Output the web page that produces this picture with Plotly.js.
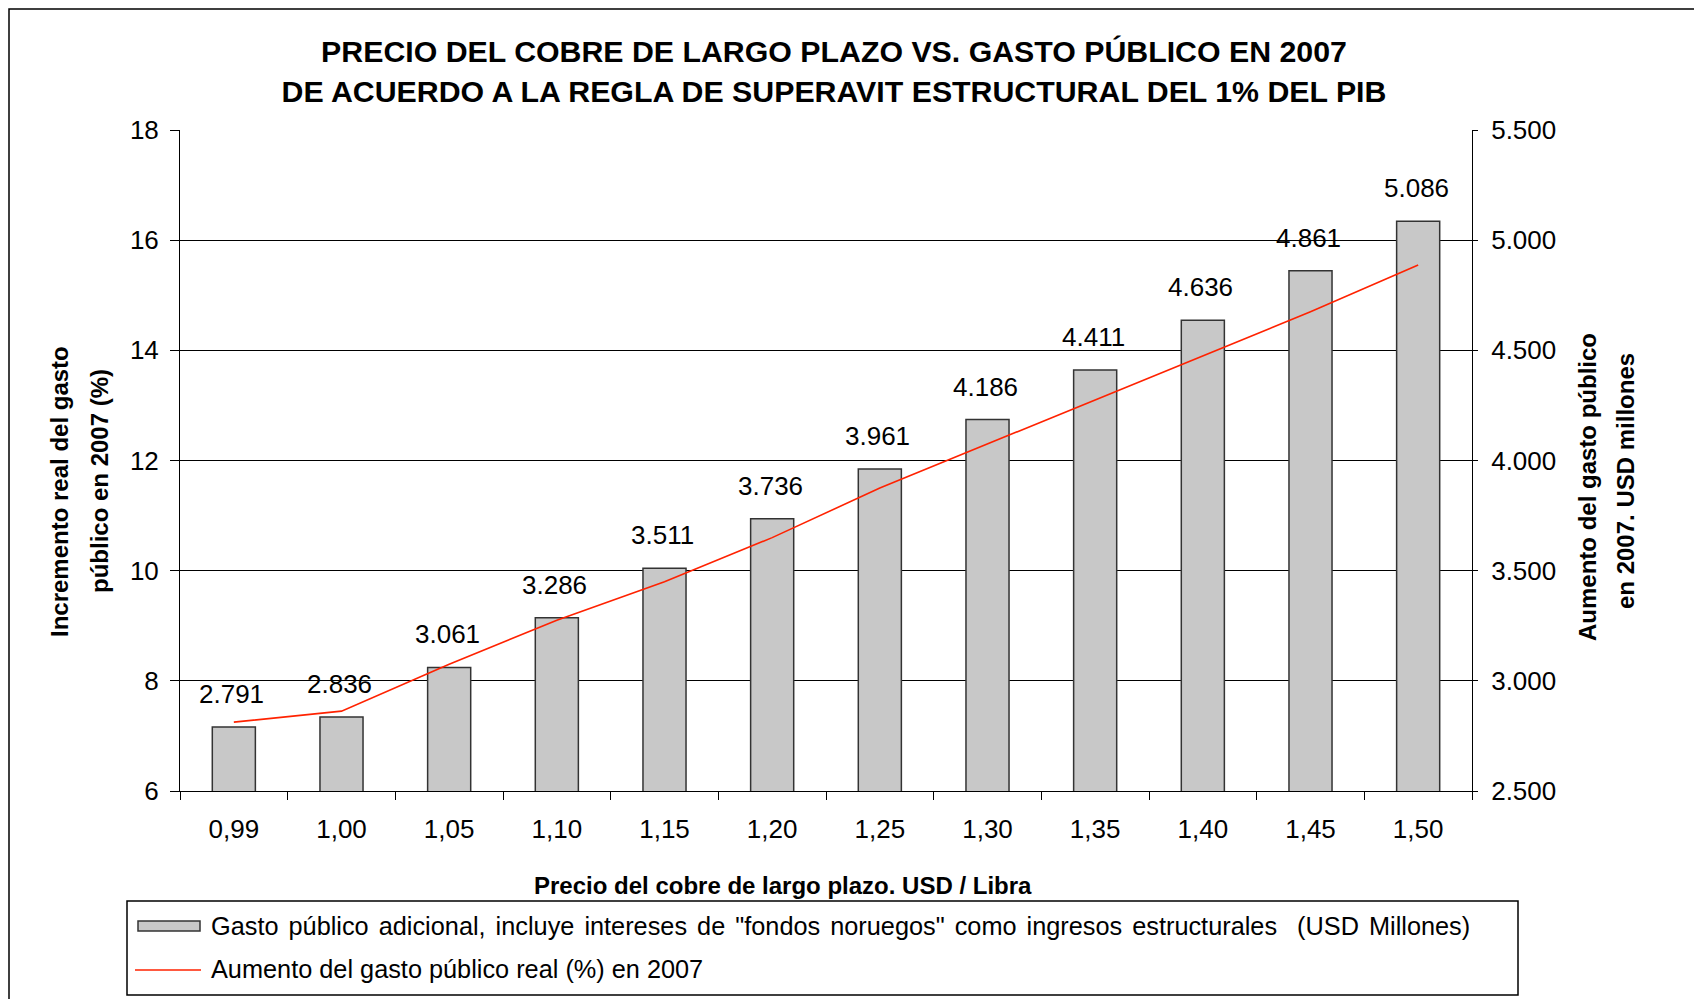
<!DOCTYPE html>
<html>
<head>
<meta charset="utf-8">
<script src="https://cdn.plot.ly/plotly-3.0.1.min.js"></script>
<style>html,body{margin:0;padding:0;background:#fff;}#chart{width:1694px;height:999px;}</style>
</head>
<body>
<div id="chart"></div>
<script>
// ---- data ----
const categorias = ['0,99','1,00','1,05','1,10','1,15','1,20','1,25','1,30','1,35','1,40','1,45','1,50'];
const gastoAdicional = [2791, 2836, 3061, 3286, 3511, 3736, 3961, 4186, 4411, 4636, 4861, 5086];
const aumentoGasto = [7.25, 7.45, 8.3, 9.1, 9.8, 10.6, 11.5, 12.3, 13.1, 13.9, 14.7, 15.55];
const nombreBarras = 'Gasto público adicional, incluye intereses de "fondos noruegos" como ingresos estructurales\u00a0\u00a0(USD Millones)';
const nombreLinea = 'Aumento del gasto público real (%) en 2007';
const tituloLineas = ['PRECIO DEL COBRE DE LARGO PLAZO VS. GASTO PÚBLICO EN 2007', 'DE ACUERDO A LA REGLA DE SUPERAVIT ESTRUCTURAL DEL 1% DEL PIB'];
const tituloX = 'Precio del cobre de largo plazo. USD / Libra';
const tituloIzq = ['Incremento real del gasto', 'público en 2007 (%)'];
const tituloDer = ['Aumento del gasto público', 'en 2007. USD millones'];

// ---- layout geometry (pixels) ----
const W = 1694, H = 999;
const L = 180, R = 1472, T = 130, B = 791;
const px = x => (x - L) / (R - L);
const py = y => (B - y) / (B - T);

const FONT = 'Liberation Sans, Arial, sans-serif';
const BAR_FILL = '#C8C8C8', BAR_LINE = '#333333', LINE_COLOR = '#FF2200';
const TICK_SIZE = 26;

function fmtMiles(v) {
  const s = Math.round(v).toString();
  return s.replace(/\B(?=(\d{3})+(?!\d))/g, '.');
}

const traces = [
  {
    type: 'bar', name: nombreBarras, x: categorias, y: gastoAdicional,
    xaxis: 'x', yaxis: 'y',
    marker: {color: BAR_FILL, line: {color: BAR_LINE, width: 1.5}},
    hoverinfo: 'x+y', showlegend: false
  },
  {
    type: 'scatter', mode: 'lines', name: nombreLinea, x: categorias, y: aumentoGasto,
    xaxis: 'x', yaxis: 'y2',
    line: {color: LINE_COLOR, width: 1.6},
    showlegend: false
  }
];

const annotations = [];
// bar value labels
categorias.forEach((c, i) => {
  annotations.push({
    x: c, y: gastoAdicional[i], xref: 'x', yref: 'y',
    text: fmtMiles(gastoAdicional[i]), showarrow: false,
    yanchor: 'middle', yshift: 33, xshift: -2,
    font: {family: FONT, size: TICK_SIZE, color: '#000'}
  });
});
// x axis title
annotations.push({
  x: px(783), y: py(885), xref: 'paper', yref: 'paper', text: '<b>' + tituloX + '</b>',
  showarrow: false, xanchor: 'center', yanchor: 'middle',
  font: {family: FONT, size: 24, color: '#000'}
});
// left y title (two lines)
[[59, 492], [99, 481]].forEach((p, k) => {
  annotations.push({
    x: px(p[0]), y: py(p[1]), xref: 'paper', yref: 'paper', text: '<b>' + tituloIzq[k] + '</b>',
    showarrow: false, textangle: -90, xanchor: 'center', yanchor: 'middle',
    font: {family: FONT, size: 24, color: '#000'}
  });
});
// right y title (two lines)
[[1588, 487], [1625, 481]].forEach((p, k) => {
  annotations.push({
    x: px(p[0]), y: py(p[1]), xref: 'paper', yref: 'paper', text: '<b>' + tituloDer[k] + '</b>',
    showarrow: false, textangle: -90, xanchor: 'center', yanchor: 'middle',
    font: {family: FONT, size: 24, color: '#000'}
  });
});
// legend texts
annotations.push({
  x: px(209), y: py(926), xref: 'paper', yref: 'paper',
  text: '<span style="word-spacing:3px">' + nombreBarras + '</span>',
  showarrow: false, xanchor: 'left', yanchor: 'middle',
  font: {family: FONT, size: 25.3, color: '#000'}
});
annotations.push({
  x: px(209), y: py(969), xref: 'paper', yref: 'paper', text: nombreLinea,
  showarrow: false, xanchor: 'left', yanchor: 'middle',
  font: {family: FONT, size: 25.3, color: '#000'}
});

const shapes = [
  // outer frame (extends past the right and bottom edges)
  {type: 'rect', xref: 'paper', yref: 'paper', x0: px(9), x1: px(1720), y0: py(9), y1: py(1030),
   line: {color: '#000', width: 1.5}, fillcolor: 'rgba(0,0,0,0)', layer: 'below'},
  // legend frame
  {type: 'rect', xref: 'paper', yref: 'paper', x0: px(127), x1: px(1518), y0: py(901), y1: py(995),
   line: {color: '#000', width: 1.5}, fillcolor: 'rgba(0,0,0,0)'},
  // legend bar symbol
  {type: 'rect', xref: 'paper', yref: 'paper', x0: px(138), x1: px(200), y0: py(921), y1: py(931),
   line: {color: BAR_LINE, width: 1.5}, fillcolor: BAR_FILL},
  // legend line symbol
  {type: 'line', xref: 'paper', yref: 'paper', x0: px(135), x1: px(201), y0: py(970), y1: py(970),
   line: {color: LINE_COLOR, width: 1.6}}
];

const layout = {
  width: W, height: H,
  margin: {l: L, r: W - R, t: T, b: H - B, pad: 0},
  paper_bgcolor: '#fff', plot_bgcolor: 'rgba(0,0,0,0)',
  separators: ',.',
  font: {family: FONT, size: TICK_SIZE, color: '#000'},
  title: {
    text: '<b>' + tituloLineas.join('<br>') + '</b>',
    font: {family: FONT, size: 30.3, color: '#000'},
    xref: 'paper', x: px(834), xanchor: 'center',
    yref: 'container', y: 1 - 62.4 / H, yanchor: 'middle'
  },
  showlegend: false,
  bargap: 0.6,
  xaxis: {
    type: 'category', showgrid: false, zeroline: false,
    showline: true, linecolor: '#000', linewidth: 1,
    ticks: 'outside', tickson: 'boundaries', ticklen: 8, tickcolor: '#000', tickwidth: 1,
    tickfont: {family: FONT, size: TICK_SIZE, color: '#000'}, ticklabelstandoff: 15
  },
  yaxis: {
    side: 'right', range: [2500, 5500], dtick: 500, tick0: 2500, tickformat: ',d',
    showgrid: true, gridcolor: '#000', gridwidth: 1, zeroline: false,
    showline: true, linecolor: '#000', linewidth: 1,
    ticks: 'outside', ticklen: 5, tickcolor: '#000',
    tickfont: {family: FONT, size: TICK_SIZE, color: '#000'}, ticklabelstandoff: 8
  },
  yaxis2: {
    overlaying: 'y', side: 'left', range: [6, 18], dtick: 2, tick0: 6,
    showgrid: false, zeroline: false,
    showline: true, linecolor: '#000', linewidth: 1,
    ticks: 'outside', ticklen: 9, tickcolor: '#000',
    tickfont: {family: FONT, size: TICK_SIZE, color: '#000'}, ticklabelstandoff: 6
  },
  annotations: annotations,
  shapes: shapes
};

Plotly.newPlot('chart', traces, layout, {displayModeBar: false, staticPlot: true});
</script>
</body>
</html>
